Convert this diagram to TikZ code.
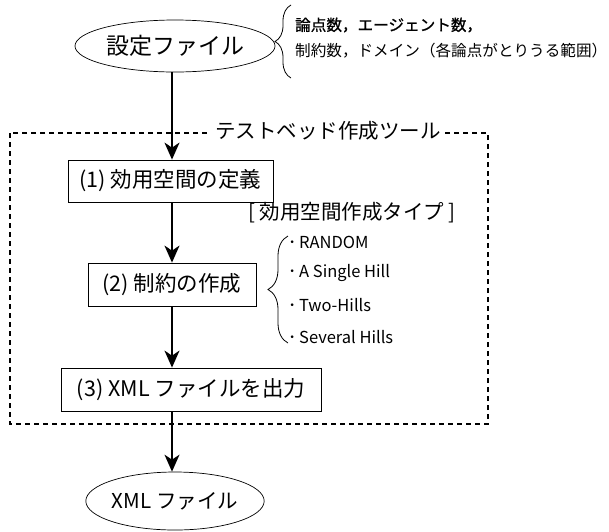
\documentclass[tikz,border=0pt]{standalone}
\usepackage{fontspec}
\setmainfont{Noto Sans CJK JP}[BoldFont=*,BoldFeatures={FakeBold=1}]
\usetikzlibrary{arrows.meta,decorations.pathreplacing,shapes.geometric}
\begin{document}
\begin{tikzpicture}[x=1pt,y=-1pt,
  conn/.style={line width=1.5pt,-{Stealth[length=17pt,width=15pt,inset=5pt]}},
  ell/.style={ellipse,draw,line width=0.7pt,inner sep=0pt},
  stepbox/.style={draw,line width=0.8pt,rectangle,inner sep=0pt,font=\fontsize{21.5}{24}\selectfont},
  small/.style={font=\fontsize{15.6}{18}\selectfont,anchor=west,inner sep=0pt},
  item/.style={font=\fontsize{16.5}{18}\selectfont,anchor=west,inner sep=0pt},
  br/.style={line width=0.8pt,decorate,decoration={brace,amplitude=#1,aspect=0.5}}]
\useasboundingbox (0,0) rectangle (609,531);
% top ellipse
\node[ell,minimum width=200pt,minimum height=52pt,font=\fontsize{23}{25}\selectfont] (cfg) at (175,46) {設定ファイル};
\coordinate (b1t) at (291,5);
\coordinate (b1b) at (291,78);
\draw[br=16pt] (b1b) -- (b1t);
\node[small] (t1) at (295,25) {\textbf{論点数，エージェント数，}};
\node[small] (t2) at (295,51) {制約数，ドメイン（各論点がとりうる範囲）\kern-0.75em};
% dashed frame
\coordinate (fa) at (10,133);
\coordinate (fb) at (488,424);
\draw[line width=1.2pt,dash pattern=on 5pt off 4pt] (fa) rectangle (fb);
\node[fill=white,inner sep=4pt,font=\fontsize{20.5}{23}\selectfont] (tool) at (328,131) {テストベッド作成ツール};
% boxes
\node[stepbox,minimum width=205pt,minimum height=42pt] (s1) at (170.5,181) {(1) 効用空間の定義};
\node[stepbox,minimum width=168pt,minimum height=43pt] (s2) at (172,284.5) {(2) 制約の作成};
\node[stepbox,minimum width=260pt,minimum height=43pt] (s3) at (191,389.5) {(3) XML ファイルを出力};
\node[font=\fontsize{20.5}{23}\selectfont,inner sep=0pt] (typ) at (352,213) {[ 効用空間作成タイプ ]};
% brace for list
\coordinate (b2t) at (288,236);
\coordinate (b2b) at (288,343);
\draw[br=20pt] (b2b) -- (b2t);
\node[item] (i1) at (288,242) {･\,RANDOM};
\node[item] (i2) at (288,273) {･\,A Single Hill};
\node[item] (i3) at (288,305) {･\,Two-Hills};
\node[item] (i4) at (288,337) {･\,Several Hills};
% bottom ellipse
\node[ell,minimum width=163pt,minimum height=58pt,font=\fontsize{20.5}{23}\selectfont] (xml) at (175,501) {XML ファイル};
% connectors
\draw[conn] (cfg.south -| s2.north) -- (s1.north -| s2.north);
\draw[conn] (s1.south -| s2.north) -- (s2.north);
\draw[conn] (s2.south) -- (s3.north -| s2.south);
\draw[conn] (s3.south -| s2.south) -- (xml.north -| s2.south);
\end{tikzpicture}
\end{document}
